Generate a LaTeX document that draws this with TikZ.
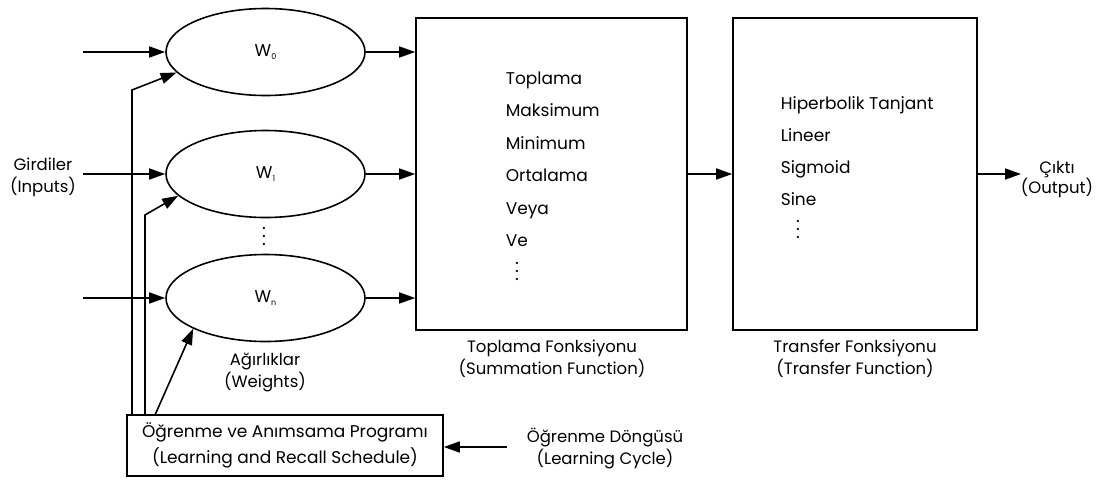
\documentclass[tikz,border=0pt]{standalone}
\usepackage{fontspec}
\setmainfont{Poppins}
\usetikzlibrary{arrows.meta,shapes.geometric}

\newcommand{\wsub}[1]{W\raisebox{-3pt}{\fontsize{8}{8}\selectfont #1}}
% a vertical ellipsis with wider spacing between its dots
\newcommand{\tallvdots}{\vbox{\baselineskip8pt\lineskiplimit-20pt\hbox{.}\hbox{.}\hbox{.}}}

\begin{document}
\begin{tikzpicture}[x=1pt,y=-1pt,
  line width=1.6pt,
  every node/.style={font=\fontsize{16.5}{22}\selectfont, inner sep=0pt},
  weight/.style={ellipse, draw, minimum width=199pt, minimum height=87pt,
    font=\fontsize{17}{17}\selectfont},
  funcbox/.style={draw, rectangle, minimum height=312pt},
  item/.style={anchor=base west, font=\fontsize{17}{17}\selectfont},
  caption/.style={align=center, anchor=base},
  arr/.style={-{Triangle[length=16pt,width=11pt]}},
  vdot/.style={font=\fontsize{18}{18}\selectfont}
]
\useasboundingbox (0,0) rectangle (1100,480);

% weights
\node[weight] (w0) at (265.5,52) {\wsub{0}};
\node[weight] (w1) at (265.5,174) {\wsub{1}};
\node[weight] (wn) at (265.5,298) {\wsub{n}};
\node[vdot] (wdots) at (264,236) {\tallvdots};

% summation and transfer boxes
\node[funcbox, minimum width=271pt] (sum) at (551.5,174) {};
\node[funcbox, minimum width=244pt] (tr) at (855,174) {};

% summation list
\node[item] (s1) at (505,84) {Toplama};
\node[item] (s2) at (505,116.5) {Maksimum};
\node[item] (s3) at (505,149) {Minimum};
\node[item] (s4) at (505,181.5) {Ortalama};
\node[item] (s5) at (505,214) {Veya};
\node[item] (s6) at (505,246.5) {Ve};
\node[vdot] (sdots) at (517,271) {\tallvdots};

% transfer list
\node[item] (t1) at (780,109) {Hiperbolik Tanjant};
\node[item] (t2) at (780,141) {Lineer};
\node[item] (t3) at (780,173) {Sigmoid};
\node[item] (t4) at (780,205) {Sine};
\node[vdot] (tdots) at (798,229) {\tallvdots};

% labels (base = baseline of the last line)
\node[caption] (inp) at (43,192) {Girdiler\\(Inputs)};
\node[caption] (wl) at (265,387) {Ağırlıklar\\(Weights)};
\node[caption] (sl) at (552,374) {Toplama Fonksiyonu\\(Summation Function)};
\node[caption] (tl) at (855,374) {Transfer Fonksiyonu\\(Transfer Function)};
\node[caption, font=\fontsize{16.5}{20}\selectfont] (outl) at (1057,193) {Çıktı\\(Output)};
\node[caption] (lcl) at (605,464) {Öğrenme Döngüsü\\(Learning Cycle)};

% learning schedule box
\node[draw, rectangle, minimum width=316pt, minimum height=61pt, align=center,
  font=\fontsize{17}{26}\selectfont] (learn) at (285,445.5)
  {Öğrenme ve Anımsama Programı\\(Learning and Recall Schedule)};

% inputs
\coordinate (i0) at (83,52);
\coordinate (i1) at (83,174);
\coordinate (in) at (83,298);
\draw[arr] (i0) -- (w0.west);
\draw[arr] (i1) -- (w1.west);
\draw[arr] (in) -- (wn.west);

% weights to summation
\draw[arr] (w0.east) -- (w0.east -| sum.west);
\draw[arr] (w1.east) -- (w1.east -| sum.west);
\draw[arr] (wn.east) -- (wn.east -| sum.west);

% summation to transfer to output
\draw[arr] (sum.east) -- (tr.west);
\coordinate (o) at (1021,174);
\draw[arr] (tr.east) -- (o);

% learning cycle
\coordinate (lc) at (507,447);
\draw[arr] (lc) -- (lc -| learn.east);

% feedback from the learning schedule
\coordinate (f1) at (132,90);
\coordinate (f2) at (145,215);
\coordinate (f3) at (155,415);
\draw[arr] (f1 |- learn.north) -- (f1) -- (w0.193);
\draw[arr] (f2 |- learn.north) -- (f2) -- (w1.194);
\draw[arr] (f3) -- (wn.203);
\end{tikzpicture}
\end{document}
